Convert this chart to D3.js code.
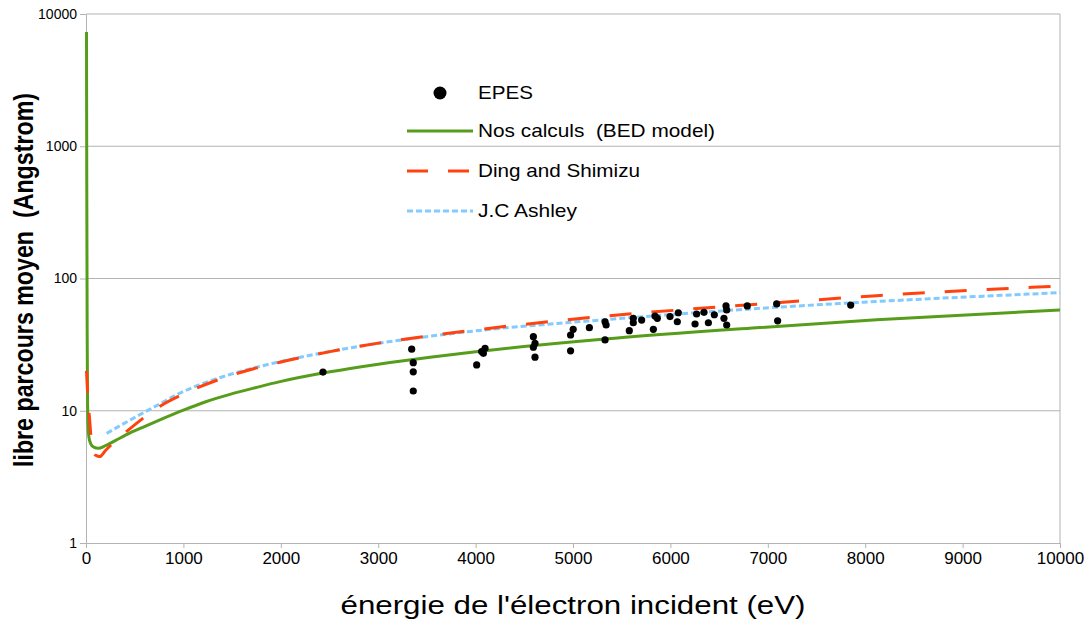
<!DOCTYPE html>
<html>
<head>
<meta charset="utf-8">
<script src="https://cdn.jsdelivr.net/npm/d3@7"></script>
<style>
  body { margin: 0; background: #fff; }
  svg { font-family: "Liberation Sans", Arial, sans-serif; }
</style>
</head>
<body>
<div id="chart"></div>
<script>
// energies (eV) and mean free path (Angstrom)
const energyBED = [5, 8, 12, 16, 22, 30, 50, 80, 126, 200, 300, 452, 600, 794, 1000, 1230, 1478, 1750, 1992, 2505, 3018, 3532, 4045, 5300, 6920, 8117, 10000]
const mfpBED    = [7300, 500, 40, 12, 7.5, 6.3, 5.6, 5.3, 5.2, 5.45, 5.95, 6.8, 7.6, 8.75, 10.1, 11.7, 13.3, 15.0, 16.6, 19.7, 22.6, 25.4, 28.2, 34.7, 42.6, 48.7, 57.8]

const energyDing = [5, 10, 25, 35, 50, 70, 100, 140, 200, 300, 430, 606, 777, 965, 1153, 1478, 1992, 2505, 3018, 3532, 4045, 5277, 6920, 8117, 10000]
const mfpDing    = [20, 17, 10.7, 9, 6.5, 5.0, 4.6, 4.5, 5.0, 5.9, 7.1, 9.0, 11.0, 13.0, 15.0, 18.4, 23.3, 28.0, 32.6, 36.9, 41.2, 51.5, 64.2, 74.1, 87.8]

const energyAshley = [212, 452, 760, 965, 1153, 1478, 1992, 2505, 3018, 3532, 4045, 5277, 6920, 8117, 10000]
const mfpAshley    = [6.75, 8.5, 11.3, 13.6, 15.6, 18.8, 23.5, 28.1, 32.5, 36.6, 40.5, 48.5, 59.5, 67, 78.1]

const energyEPES = [2433, 3344, 3360, 3360, 3360, 4011, 4062, 4097, 4080, 4593, 4610, 4593, 4610, 4975, 5002, 4975, 5168,
                    5329, 5340, 5329, 5619, 5619, 5705, 5578, 5842, 5866, 5825, 5996, 6081, 6071, 6269, 6345, 6253, 6390, 6451,
                    6571, 6578, 6550, 6578, 6789, 7091, 7101, 7851]
const mfpEPES    = [19.6, 29.2, 23.1, 19.7, 14.1, 22.2, 28, 29.7, 27.2, 36.3, 32.4, 30.2, 25.4, 37.4, 41.3, 28.4, 42.5,
                    47, 44.5, 34.3, 50, 46.3, 48.5, 40.3, 52, 50, 41.3, 51.5, 55.1, 47.1, 53.9, 55.5, 45.3, 46.3, 53.2,
                    62, 57.8, 50, 44.5, 62, 64.2, 47.9, 63]

const xTicks = [0, 1000, 2000, 3000, 4000, 5000, 6000, 7000, 8000, 9000, 10000]
const yTicks = [1, 10, 100, 1000, 10000]

const legendLabels = ["EPES", "Nos calculs  (BED model)", "Ding and Shimizu", "J.C Ashley"]

const width = 1089, height = 623
const margin = { left: 86, right: 29, top: 14, bottom: 80 }
const green = "#579d1c", red = "#ff420e", blue = "#83caff", grid = "#b3b3b3"

const svg = d3.select("#chart")
  .append("svg")
    .attr("width", width)
    .attr("height", height)

const x = d3.scaleLinear()
  .domain([0, 10000])
  .range([margin.left, width - margin.right])

const y = d3.scaleLog()
  .domain([1, 10000])
  .range([height - margin.bottom, margin.top])

// grid lines
svg.append("g")
  .selectAll("line")
  .data(yTicks.slice(1))
  .enter().append("line")
    .attr("x1", x(0)).attr("x2", x(10000))
    .attr("y1", d => y(d)).attr("y2", d => y(d))
    .attr("stroke", grid)
svg.append("line")
  .attr("x1", x(10000)).attr("x2", x(10000))
  .attr("y1", y(10000)).attr("y2", y(1))
  .attr("stroke", grid)

// axes
const xAxis = d3.axisBottom(x).tickValues(xTicks).tickFormat(d3.format("d")).tickSize(5).tickSizeOuter(0).tickPadding(4)
const gx = svg.append("g")
  .attr("transform", "translate(0," + y(1) + ")")
  .call(xAxis)
gx.selectAll("text").attr("font-size", 17).attr("fill", "#000")

const yAxis = d3.axisLeft(y).tickValues(yTicks).tickFormat(d3.format("d")).tickSize(6).tickSizeOuter(0).tickPadding(3)
const gy = svg.append("g")
  .attr("transform", "translate(" + x(0) + ",0)")
  .call(yAxis)
gy.selectAll("text").attr("font-size", 14).attr("fill", "#000")

svg.selectAll(".domain, .tick line").attr("stroke", grid)

// axis titles
svg.append("text")
  .text("énergie de l'électron incident (eV)")
  .attr("text-anchor", "middle")
  .attr("font-size", 25)
  .attr("textLength", 465)
  .attr("lengthAdjust", "spacingAndGlyphs")
  .attr("x", (x(0) + x(10000)) / 2)
  .attr("y", 614)

svg.append("text")
  .text("libre parcours moyen  (Angstrom)")
  .style("white-space", "pre")
  .attr("text-anchor", "middle")
  .attr("font-size", 28)
  .attr("font-weight", "bold")
  .attr("textLength", 374)
  .attr("lengthAdjust", "spacingAndGlyphs")
  .attr("transform", "translate(33,280)rotate(-90)")

// curves
const line = d3.line()
  .x(d => x(d[0]))
  .y(d => y(d[1]))
  .curve(d3.curveMonotoneX)

svg.append("path")
  .datum(d3.zip(energyBED, mfpBED))
  .attr("d", line)
  .attr("fill", "none")
  .attr("stroke", green)
  .attr("stroke-width", 3)

svg.append("path")
  .datum(d3.zip(energyAshley, mfpAshley))
  .attr("d", line)
  .attr("fill", "none")
  .attr("stroke", blue)
  .attr("stroke-width", 3)
  .attr("stroke-dasharray", "6 3")

svg.append("path")
  .datum(d3.zip(energyDing, mfpDing))
  .attr("d", line)
  .attr("fill", "none")
  .attr("stroke", red)
  .attr("stroke-width", 3)
  .attr("stroke-dasharray", "22 20")

// EPES points
svg.append("g")
  .selectAll("circle")
  .data(d3.zip(energyEPES, mfpEPES))
  .enter().append("circle")
    .attr("cx", d => x(d[0]))
    .attr("cy", d => y(d[1]))
    .attr("r", 3.6)
    .attr("fill", "#000")

// legend
const legend = svg.append("g").attr("transform", "translate(407,0)")
const rowY = [93, 131, 171, 211]
const textLen = [55, 237, 162, 99]

legend.append("circle").attr("cx", 33).attr("cy", rowY[0]).attr("r", 6.5).attr("fill", "#000")
legend.append("line").attr("x1", 0).attr("x2", 66).attr("y1", rowY[1]).attr("y2", rowY[1])
  .attr("stroke", green).attr("stroke-width", 3)
legend.append("line").attr("x1", 0).attr("x2", 66).attr("y1", rowY[2]).attr("y2", rowY[2])
  .attr("stroke", red).attr("stroke-width", 3).attr("stroke-dasharray", "21 20")
legend.append("line").attr("x1", 0).attr("x2", 66).attr("y1", rowY[3]).attr("y2", rowY[3])
  .attr("stroke", blue).attr("stroke-width", 3).attr("stroke-dasharray", "6 3")

legend.selectAll("text.lbl")
  .data(legendLabels)
  .enter().append("text")
    .attr("class", "lbl")
    .style("white-space", "pre")
    .text(d => d)
    .attr("x", 71)
    .attr("y", (d, i) => rowY[i] + 6)
    .attr("font-size", 19)
    .attr("textLength", (d, i) => textLen[i])
    .attr("lengthAdjust", "spacingAndGlyphs")
    .attr("fill", "#000")
</script>
</body>
</html>
